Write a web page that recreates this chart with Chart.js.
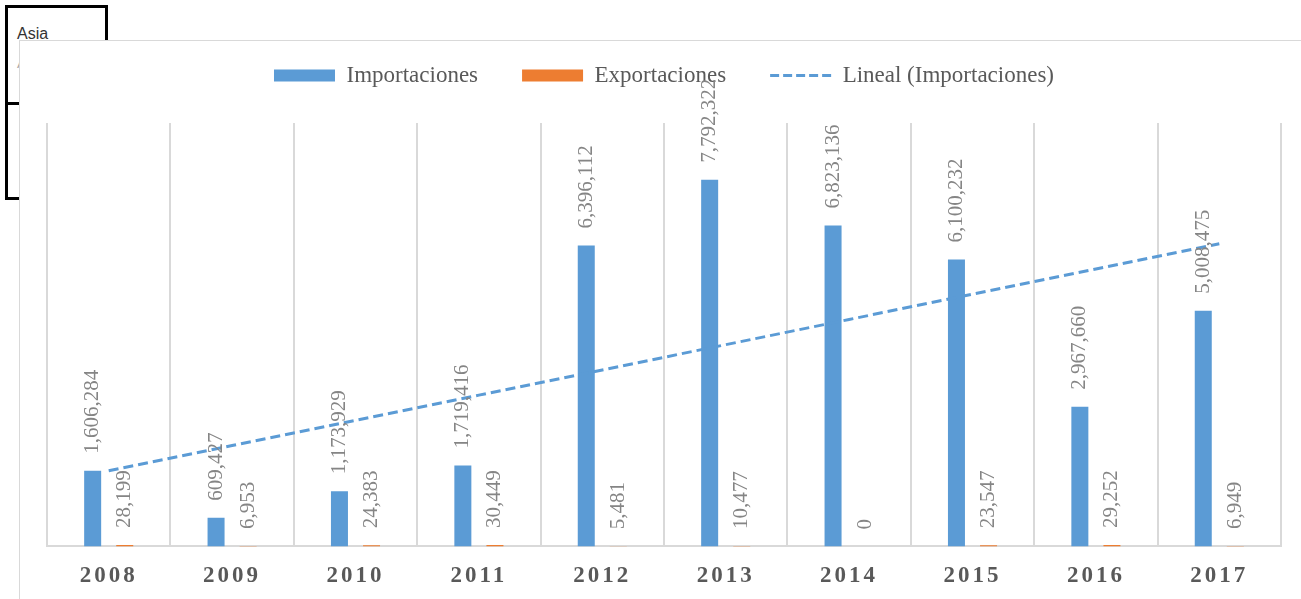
<!DOCTYPE html>
<html lang="es">
<head>
  <meta charset="UTF-8" />
  <title>Importaciones y Exportaciones - Asia</title>
  <script src="https://cdn.jsdelivr.net/npm/chart.js"></script>
  <style>
    body {
      margin: 0;
      width: 1301px;
      height: 599px;
      overflow: hidden;
      background: #ffffff;
      position: relative;
      font-family: 'Liberation Serif', serif;
    }
    /* box peeking out behind the chart */
    #backBox {
      position: absolute;
      left: 5px;
      top: 5px;
      width: 97px;
      height: 189px;
      border: 3px solid #000;
      background: #fff;
    }
    #backBox .title {
      position: absolute;
      left: 9px;
      top: 17px;
      font: 16px 'Liberation Sans', Arial, sans-serif;
      color: #333;
    }
    #backBox .sub {
      position: absolute;
      left: 9px;
      top: 46px;
      font: 15px 'Liberation Sans', Arial, sans-serif;
      color: #aaa;
    }
    #backBox .divider {
      position: absolute;
      left: 0;
      top: 94px;
      width: 100%;
      height: 3px;
      background: #000;
    }
    #panel {
      position: absolute;
      left: 19px;
      top: 40px;
      width: 1300px;
      height: 600px;
      background: #fff;
      border: 1px solid #d9d9d9;
    }
    #chartWrap {
      position: absolute;
      left: 19px;
      top: 20px;
      width: 1282px;
      height: 579px;
    }
  </style>
</head>
<body>
  <div id="backBox">
    <div class="title">Asia</div>
    <div class="sub">A</div>
    <div class="divider"></div>
  </div>
  <div id="panel"></div>
  <div id="chartWrap">
    <canvas id="myChart" width="1282" height="579"></canvas>
  </div>

  <script>
    const years = ["2008", "2009", "2010", "2011", "2012", "2013", "2014", "2015", "2016", "2017"];
    const importaciones = [1606284, 609427, 1173929, 1719416, 6396112, 7792322, 6823136, 6100232, 2967660, 5008475];
    const exportaciones = [28199, 6953, 24383, 30449, 5481, 10477, 0, 23547, 29252, 6949];
    // trend line values
    const linealImport = [1607000, 2143000, 2679000, 3215000, 3751000, 4288000, 4824000, 5360000, 5896000, 6432000];

    const BLUE = "#5B9BD5";
    const ORANGE = "#ED7D31";
    const SERIF = "'Liberation Serif', 'Times New Roman', serif";

    // category axis whose labels get a bit of letter spacing
    class SpacedCategoryScale extends Chart.CategoryScale {
      drawLabels(area) {
        const ctx = this.ctx;
        ctx.save();
        if ("letterSpacing" in ctx) ctx.letterSpacing = "3px";
        super.drawLabels(area);
        ctx.restore();
      }
    }
    SpacedCategoryScale.id = "spacedCategory";
    SpacedCategoryScale.defaults = Chart.CategoryScale.defaults;
    Chart.register(SpacedCategoryScale);

    // rotated value labels above the bars
    const barValueLabels = {
      id: "barValueLabels",
      afterDatasetsDraw(chart) {
        const ctx = chart.ctx;
        ctx.save();
        ctx.font = "21px " + SERIF;
        ctx.fillStyle = "#858585";
        ctx.textAlign = "left";
        ctx.textBaseline = "middle";
        chart.data.datasets.forEach((ds, i) => {
          if (ds.type === "line") return;
          const meta = chart.getDatasetMeta(i);
          meta.data.forEach((bar, j) => {
            const txt = ds.data[j].toLocaleString("en-US");
            ctx.save();
            ctx.translate(bar.x, bar.y - 17);
            ctx.rotate(-Math.PI / 2);
            ctx.fillText(txt, 0, 0);
            ctx.restore();
          });
        });
        ctx.restore();
      }
    };

    // fixes the gap under the legend
    const legendHeight = {
      id: "legendHeight",
      beforeInit(chart) {
        const fitOrig = chart.legend.fit;
        chart.legend.fit = function () {
          fitOrig.call(this);
          this.height = 103;
        };
      }
    };

    const ctx = document.getElementById("myChart").getContext("2d");

    const chart = new Chart(ctx, {
      data: {
        labels: years,
        datasets: [
          {
            type: "bar",
            label: "Importaciones",
            data: importaciones,
            backgroundColor: BLUE,
            pointStyle: "rect",
            order: 1
          },
          {
            type: "bar",
            label: "Exportaciones",
            data: exportaciones,
            backgroundColor: ORANGE,
            pointStyle: "rect",
            order: 1
          },
          {
            type: "line",
            label: "Lineal (Importaciones)",
            data: linealImport,
            borderColor: BLUE,
            backgroundColor: BLUE,
            borderWidth: 3,
            borderDash: [10, 5],
            pointRadius: 0,
            pointStyle: "line",
            fill: false,
            tension: 0,
            order: 0
          }
        ]
      },
      options: {
        responsive: false,
        animation: false,
        categoryPercentage: 0.52,
        barPercentage: 0.53,
        layout: {
          padding: { left: 28, right: 20, top: 0, bottom: -7 }
        },
        scales: {
          x: {
            type: "spacedCategory",
            offset: true,
            grid: {
              offset: true,
              color: "#d9d9d9",
              lineWidth: 2,
              drawTicks: false
            },
            border: { color: "#d9d9d9", width: 2 },
            ticks: {
              color: "#595959",
              padding: 16,
              font: { family: SERIF, size: 23, weight: "bold" }
            }
          },
          y: {
            display: false,
            min: 0,
            max: 9000000
          }
        },
        plugins: {
          legend: {
            position: "top",
            labels: {
              usePointStyle: true,
              pointStyleWidth: 61,
              boxHeight: 12,
              padding: 44,
              color: "#595959",
              font: { family: SERIF, size: 23 },
              sort: (a, b) => a.datasetIndex - b.datasetIndex,
              generateLabels(chart) {
                const items = Chart.Legend.defaults.labels.generateLabels(chart);
                items.forEach(it => {
                  const ds = chart.data.datasets[it.datasetIndex];
                  if (ds.borderDash) {
                    it.lineDash = [9, 4];
                    it.lineWidth = 3;
                    it.strokeStyle = ds.borderColor;
                  }
                });
                return items;
              }
            }
          },
          tooltip: { enabled: false }
        }
      },
      plugins: [barValueLabels, legendHeight]
    });
  </script>
</body>
</html>
